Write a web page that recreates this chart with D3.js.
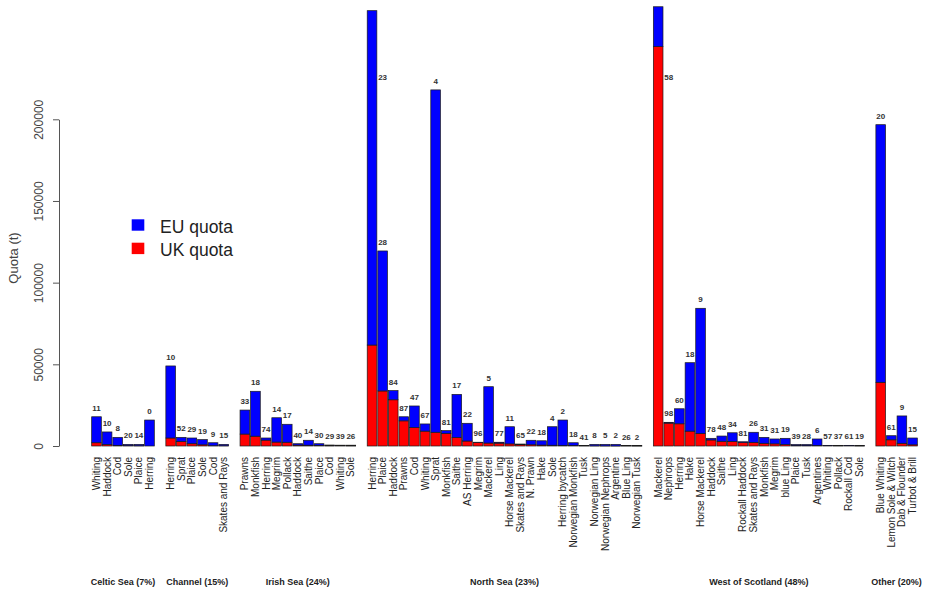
<!DOCTYPE html>
<html>
<head>
<meta charset="utf-8">
<script src="https://cdn.jsdelivr.net/npm/d3@7"></script>
<style>
  body { margin: 0; background: #fff; }
  svg { display: block; font-family: "Liberation Sans", Arial, sans-serif; }
</style>
</head>
<body>
<svg id="chart" width="925" height="589"></svg>
<script>
const regions = ["Celtic Sea (7%)", "Channel (15%)", "Irish Sea (24%)", "North Sea (23%)", "West of Scotland (48%)", "Other (20%)"];
const regionSizes = [6, 6, 11, 26, 20, 4];

const species = [
  "Whiting", "Haddock", "Cod", "Sole", "Plaice", "Herring",
  "Herring", "Sprat", "Plaice", "Sole", "Cod", "Skates and Rays",
  "Prawns", "Monkfish", "Herring", "Megrim", "Pollack", "Haddock", "Saithe", "Plaice", "Cod", "Whiting", "Sole",
  "Herring", "Plaice", "Haddock", "Prawns", "Cod", "Whiting", "Sprat", "Monkfish", "Saithe", "AS Herring",
  "Megrim", "Mackerel", "Ling", "Horse Mackerel", "Skates and Rays", "N. Prawn", "Hake", "Sole",
  "Herring bycatch", "Norwegian Monkfish", "Tusk", "Norwegian Ling", "Norwegian Nephrops", "Argentine",
  "Blue Ling", "Norwegian Tusk",
  "Mackerel", "Nephrops", "Herring", "Hake", "Horse Mackerel", "Haddock", "Saithe", "Ling", "Rockall Haddock",
  "Skates and Rays", "Monkfish", "Megrim", "blue Ling", "Plaice", "Tusk", "Argentines", "Whiting", "Pollack",
  "Rockall Cod", "Sole",
  "Blue Whiting", "Lemon Sole & Witch", "Dab & Flounder", "Turbot & Brill"
];

// tonnes
const ukQuota = [
  2000, 900, 420, 200, 140, 0,
  4900, 2750, 1400, 740, 180, 150,
  7300, 6000, 3600, 2400, 2300, 560, 490, 420, 170, 200, 130,
  61800, 33700, 28300, 15400, 11300, 9100, 8400, 7700, 5200, 3050,
  2200, 1800, 1750, 1300, 800, 770, 580, 470,
  320, 360, 120, 80, 50, 20,
  80, 6,
  244500, 14000, 13600, 9100, 7600, 3700, 2900, 2800, 2100,
  2200, 1650, 1330, 900, 350, 250, 260, 230, 150,
  240, 80,
  39000, 3800, 1650, 740
];

const euQuota = [
  15900, 7700, 4880, 800, 860, 15900,
  44100, 2550, 3500, 3160, 1820, 850,
  14700, 27500, 1300, 14900, 11000, 840, 3010, 980, 430, 300, 370,
  204700, 85700, 5600, 2500, 13200, 4400, 209600, 1700, 26400, 10850,
  100, 34500, 550, 10500, 400, 2730, 2620, 11330,
  15580, 1640, 180, 920, 950, 980,
  220, 294,
  24400, 500, 9200, 41900, 76700, 1000, 3200, 5300, 500,
  6200, 3650, 2970, 3800, 550, 650, 4040, 170, 250,
  160, 320,
  157700, 2500, 16750, 4160
];

// numbers printed above the bars
const ukShare = [
  11, 10, 8, 20, 14, 0,
  10, 52, 29, 19, 9, 15,
  33, 18, 74, 14, 17, 40, 14, 30, 29, 39, 26,
  23, 28, 84, 87, 47, 67, 4, 81, 17, 22,
  96, 5, 77, 11, 65, 22, 18, 4,
  2, 18, 41, 8, 5, 2,
  26, 2,
  58, 98, 60, 18, 9, 78, 48, 34, 81,
  26, 31, 31, 19, 39, 28, 6, 57, 37,
  61, 19,
  20, 61, 9, 15
];

const yTicks = [0, 50000, 100000, 150000, 200000];
const seriesNames = ["EU quota", "UK quota"];
const seriesColors = ["#0000ff", "#ff0000"];

// ---- build slots: one empty slot between regions ----
const rows = [];
const slots = [];
let k = 0;
regionSizes.forEach((n, r) => {
  if (r > 0) slots.push("gap" + r);
  for (let j = 0; j < n; j++, k++) {
    const key = "b" + k;
    slots.push(key);
    rows.push({ key, region: r, name: species[k], uk: ukQuota[k], eu: euQuota[k], share: ukShare[k] });
  }
});

const svg = d3.select("#chart");

const x = d3.scaleBand()
  .domain(slots)
  .range([91.2, 917.8])
  .paddingInner(0.09)
  .paddingOuter(0.045);

const y = d3.scaleLinear()
  .domain([0, 200000])
  .range([446, 119.3]);

// y axis
const yAxis = svg.append("g")
  .attr("transform", "translate(59,0)")
  .call(d3.axisLeft(y).tickValues(yTicks).tickSize(6).tickSizeOuter(0).tickFormat(d3.format("d")));

yAxis.select(".domain").attr("stroke", "#555");
yAxis.selectAll(".tick line").attr("stroke", "#555");
yAxis.selectAll(".tick text")
  .attr("x", 0)
  .attr("dy", 0)
  .attr("text-anchor", "middle")
  .attr("transform", "translate(-16,0) rotate(-90)")
  .style("font-size", "12px")
  .style("font-family", "Liberation Sans, Arial, sans-serif")
  .attr("fill", "#444");

svg.append("text")
  .attr("transform", `translate(18,${258}) rotate(-90)`)
  .attr("text-anchor", "middle")
  .style("font-size", "13px")
  .attr("fill", "#444")
  .text("Quota (t)");

// stacked bars
const stack = d3.stack().keys(["uk", "eu"]);
const layers = stack(rows);
const layerColor = { uk: seriesColors[1], eu: seriesColors[0] };

svg.append("g")
  .selectAll("g")
  .data(layers)
  .join("g")
  .attr("fill", (d) => layerColor[d.key])
  .selectAll("rect")
  .data((d) => d)
  .join("rect")
  .attr("x", (d) => x(d.data.key))
  .attr("y", (d) => y(d[1]))
  .attr("width", x.bandwidth())
  .attr("height", (d) => y(d[0]) - y(d[1]))
  .attr("stroke", "#1a1a1a")
  .attr("stroke-width", 0.7);

// numbers above bars (very tall bars get theirs beside, lower down)
svg.append("g")
  .selectAll("text")
  .data(rows)
  .join("text")
  .attr("x", (d) => {
    const total = d.uk + d.eu;
    if (total > 250000) {
      const next = slots[slots.indexOf(d.key) + 1];
      return x(next) + x.bandwidth() / 2;
    }
    return x(d.key) + x.bandwidth() / 2;
  })
  .attr("y", (d) => {
    const total = d.uk + d.eu;
    return total > 250000 ? y(224000) : y(total) - 6;
  })
  .attr("text-anchor", "middle")
  .style("font-weight", "bold")
  .style("font-size", "8px")
  .attr("fill", "#333")
  .text((d) => d.share);

// species names
svg.append("g")
  .selectAll("text")
  .data(rows)
  .join("text")
  .attr("transform", (d) => `translate(${x(d.key) + x.bandwidth() / 2},457) rotate(-90)`)
  .attr("dy", "0.35em")
  .attr("text-anchor", "end")
  .style("font-size", "10px")
  .attr("fill", "#222")
  .text((d) => d.name);

// region names
const regionText = svg.append("g")
  .selectAll("text")
  .data(regions)
  .join("text")
  .attr("x", (d, r) => {
    const inR = rows.filter((row) => row.region === r);
    const first = x(inR[0].key);
    const last = x(inR[inR.length - 1].key) + x.bandwidth();
    return (first + last) / 2;
  })
  .attr("y", 585)
  .attr("text-anchor", "middle")
  .style("font-weight", "bold")
  .style("font-size", "9px")
  .attr("fill", "#222")
  .text((d) => d);

// keep the last one inside the picture
regionText.each(function () {
  const b = this.getBBox();
  const over = b.x + b.width - 922;
  if (over > 0) d3.select(this).attr("x", +d3.select(this).attr("x") - over);
});

// legend
const legend = svg.append("g").attr("transform", "translate(131.7,219.3)");
seriesNames.forEach((name, i) => {
  legend.append("rect")
    .attr("x", 0)
    .attr("y", i * 23.4)
    .attr("width", 12.6)
    .attr("height", 11.4)
    .attr("fill", seriesColors[i]);
  legend.append("text")
    .attr("x", 28.3)
    .attr("y", i * 23.4 + 13.7)
    .style("font-size", "17.5px")
    .attr("fill", "#222")
    .text(name);
});
</script>
</body>
</html>
